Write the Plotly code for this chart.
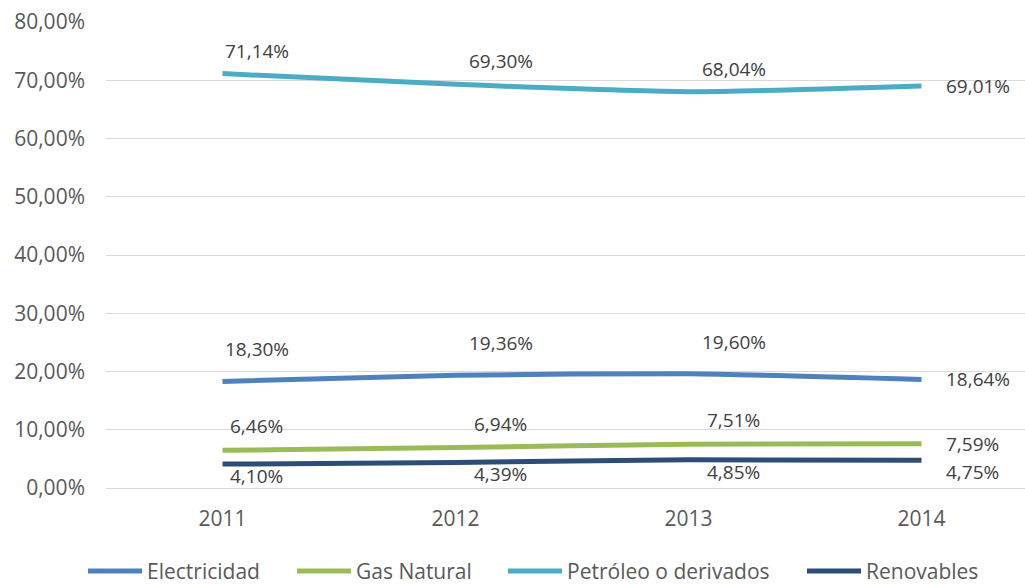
import plotly.graph_objects as go

years = ["2011", "2012", "2013", "2014"]
electricidad = [18.30, 19.36, 19.60, 18.64]
gas_natural = [6.46, 6.94, 7.51, 7.59]
petroleo = [71.14, 69.30, 68.04, 69.01]
renovables = [4.10, 4.39, 4.85, 4.75]

series = [
    ("Electricidad", electricidad, "#4F81BD", 32),
    ("Gas Natural", gas_natural, "#9BBB59", 24),
    ("Petróleo o derivados", petroleo, "#4BACC6", 23),
    ("Renovables", renovables, "#2C4D75", -12),
]

FONT = "Open Sans"
TICK_COLOR = "#595959"
LABEL_COLOR = "#404040"

W, H = 1025, 584
L, R, T, B = 106, 0, 22, 96
pw = W - L - R
ph = H - T - B

fig = go.Figure()
annotations = []
for name, vals, color, yshift in series:
    fig.add_trace(go.Scatter(
        x=years, y=[v / 100 for v in vals], mode="lines", name=name,
        line=dict(color=color, width=5, shape="spline", smoothing=0.6),
        showlegend=False, hoverinfo="skip",
    ))
    for i, v in enumerate(vals):
        txt = f"{v:.2f}".replace(".", ",") + "%"
        last = i == len(years) - 1
        annotations.append(dict(
            x=i, y=v / 100, xref="x", yref="y", text=txt, showarrow=False,
            xanchor="left" if last else "center", yanchor="middle",
            xshift=22 if last else (34 if i == 0 else 45),
            yshift=(-12 if yshift < 0 else 0) if last else yshift,
            font=dict(family=FONT, size=19, color=LABEL_COLOR),
        ))

# manual legend (pixel positions converted to paper coords)
legend_items = [("Electricidad", "#4F81BD", 88, 142),
                ("Gas Natural", "#9BBB59", 297, 351),
                ("Petróleo o derivados", "#4BACC6", 508, 562),
                ("Renovables", "#2C4D75", 807, 861)]
shapes = []
ly = (H - B - 571) / ph
for name, color, x0, x1 in legend_items:
    shapes.append(dict(type="line", xref="paper", yref="paper",
                       x0=(x0 - L) / pw, x1=(x1 - L) / pw, y0=ly, y1=ly,
                       line=dict(color=color, width=5)))
    annotations.append(dict(x=(x1 + 3 - L) / pw, y=ly, xref="paper", yref="paper",
                            text=name, showarrow=False, xanchor="left", yanchor="middle",
                            font=dict(family=FONT, size=21, color=TICK_COLOR)))

fig.update_layout(
    width=W, height=H,
    margin=dict(l=L, r=R, t=T, b=B, pad=0),
    paper_bgcolor="white", plot_bgcolor="white",
    separators=",.",
    showlegend=False,
    annotations=annotations,
    shapes=shapes,
    xaxis=dict(type="category", range=[-0.5, -0.5 + pw / 233.0],
               showgrid=False, zeroline=False, showline=False,
               ticks="", ticklabelstandoff=16,
               tickfont=dict(family=FONT, size=21, color=TICK_COLOR)),
    yaxis=dict(range=[0, 0.8], dtick=0.1, tickformat=".2%",
               showgrid=True, gridcolor="#D9D9D9", gridwidth=1.3,
               zeroline=True, zerolinecolor="#D9D9D9", zerolinewidth=1.3,
               showline=False, ticks="", ticklabelstandoff=20,
               tickfont=dict(family=FONT, size=21, color=TICK_COLOR)),
)

fig.write_html("out.html", config={"displayModeBar": False},
               post_script="document.body.style.margin='0';")
